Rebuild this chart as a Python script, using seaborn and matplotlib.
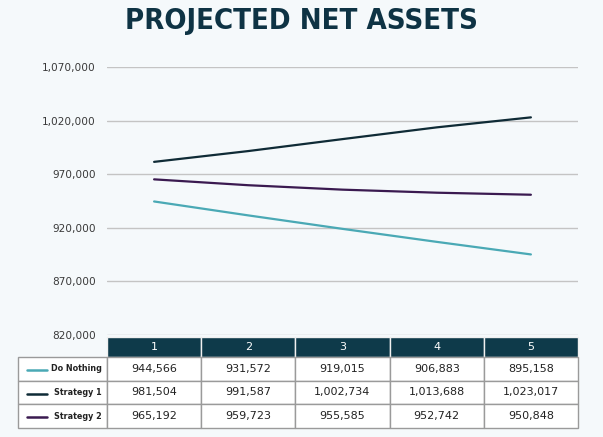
import matplotlib
matplotlib.use("Agg")
import matplotlib.pyplot as plt
import matplotlib.ticker as mticker
from matplotlib.lines import Line2D
import pandas as pd
import seaborn as sns

years = ["1", "2", "3", "4", "5"]
series = ["Do Nothing", "Strategy 1", "Strategy 2"]
do_nothing = [944566, 931572, 919015, 906883, 895158]
strategy_1 = [981504, 991587, 1002734, 1013688, 1023017]
strategy_2 = [965192, 959723, 955585, 952742, 950848]
y_ticks = [820000, 870000, 920000, 970000, 1020000, 1070000]

colors = {"Do Nothing": "#4aa9b5", "Strategy 1": "#0f2b36", "Strategy 2": "#3a1a50"}
bg = "#f5f9fb"

df = pd.DataFrame({"year": list(range(5)) * 3,
                   "series": [s for s in series for _ in years],
                   "value": do_nothing + strategy_1 + strategy_2})

sns.set_style("white")
fig = plt.figure(figsize=(6.03, 4.37), dpi=100, facecolor=bg)
ax = fig.add_axes([107 / 603, 1 - 335 / 437, 471 / 603, 268 / 437])
ax.set_facecolor(bg)

sns.lineplot(data=df, x="year", y="value", hue="series", palette=colors,
             linewidth=1.6, legend=False, ax=ax)

ax.set_xlim(-0.5, 4.5)
ax.set_ylim(y_ticks[0], y_ticks[-1])
ax.set_yticks(y_ticks)
ax.yaxis.set_major_formatter(mticker.FuncFormatter(lambda v, p: f"{int(v):,}"))
ax.tick_params(axis="y", length=0, labelsize=7.6, labelcolor="#3a3a3a", pad=8)
ax.set_xticks([])
ax.set_xlabel("")
ax.set_ylabel("")
ax.grid(axis="y", color="#c4c4c4", linewidth=1)
for s in ax.spines.values():
    s.set_visible(False)

# data table under the plot (first column holds the series names)
cell_text = [[name] + [f"{v:,}" for v in row]
             for name, row in zip(series, (do_nothing, strategy_1, strategy_2))]
left = (18 - 107) / 471
tbl = ax.table(cellText=cell_text, colLabels=[""] + years,
               cellLoc="center",
               colWidths=[89 / 471] + [94.2 / 471] * 5,
               bbox=[left, -(428 - 335) / 268, 1 - left, (428 - 337) / 268])
tbl.auto_set_font_size(False)
for (r, c), cell in tbl.get_celld().items():
    cell.set_edgecolor("#9a9a9a")
    cell.set_linewidth(1)
    txt = cell.get_text()
    if r == 0:
        cell.set_height(20)
        if c == 0:
            cell.set_visible(False)
            continue
        cell.set_facecolor("#0e3a4a")
        cell.set_edgecolor("#f0f0f0")
        txt.set_color("white")
        txt.set_fontsize(8)
    else:
        cell.set_height(24)
        cell.set_facecolor("white")
        txt.set_color("#222222")
        if c == 0:
            txt.set_fontsize(5.8)
            txt.set_fontweight("bold")
            txt.set_ha("right")
            cell._loc = "right"
            cell.PAD = 0.06
        else:
            txt.set_fontsize(8)

# legend swatches in the series-name cells
for i, s in enumerate(series):
    yc = 1 - (370 + i * 23.5) / 437
    fig.add_artist(Line2D([27 / 603, 47 / 603], [yc, yc], color=colors[s],
                          linewidth=1.8, transform=fig.transFigure))

fig.text(0.5, 1 - 21 / 437, "PROJECTED NET ASSETS", ha="center", va="center",
         fontsize=21, fontweight="bold", fontstretch="condensed", color="#0e3344")

fig.savefig("out.png", dpi=100, facecolor=bg)
